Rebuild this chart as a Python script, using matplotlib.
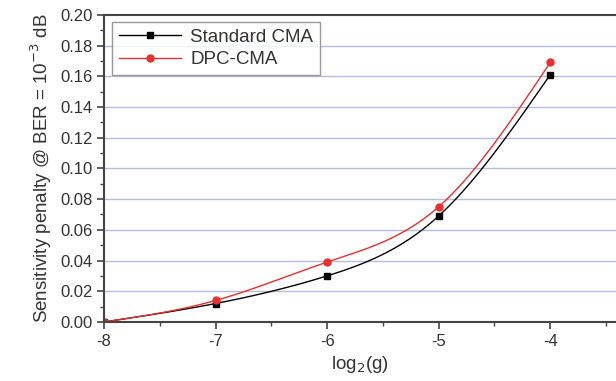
import numpy as np
import matplotlib
matplotlib.use('Agg')
import matplotlib.pyplot as plt
from matplotlib.ticker import MultipleLocator

# data
log2g = [-8, -7, -6, -5, -4]
standard_cma = [0.000, 0.012, 0.030, 0.069, 0.161]
dpc_cma = [0.000, 0.014, 0.039, 0.075, 0.169]

plt.rcParams['font.family'] = ['Liberation Sans', 'DejaVu Sans']
plt.rcParams['axes.unicode_minus'] = False


def smooth(x, y, n=40):
    # natural cubic spline through the points (only for drawing the line)
    x = np.asarray(x, float)
    y = np.asarray(y, float)
    m = len(x)
    h = np.diff(x)
    A = np.zeros((m, m))
    b = np.zeros(m)
    A[0, 0] = A[-1, -1] = 1
    for i in range(1, m - 1):
        A[i, i - 1] = h[i - 1]
        A[i, i] = 2 * (h[i - 1] + h[i])
        A[i, i + 1] = h[i]
        b[i] = 6 * ((y[i + 1] - y[i]) / h[i] - (y[i] - y[i - 1]) / h[i - 1])
    M = np.linalg.solve(A, b)
    xs, ys = [], []
    for i in range(m - 1):
        t = np.linspace(x[i], x[i + 1], n)
        a = x[i + 1] - t
        c = t - x[i]
        s = (M[i] * a ** 3 + M[i + 1] * c ** 3) / (6 * h[i]) \
            + (y[i] / h[i] - M[i] * h[i] / 6) * a \
            + (y[i + 1] / h[i] - M[i + 1] * h[i] / 6) * c
        xs.extend(t)
        ys.extend(s)
    return xs, ys


fig = plt.figure(figsize=(6.16, 3.81), dpi=100)
ax = fig.add_axes([0.169, 0.155, 0.831, 0.806])

for yv in np.arange(0.02, 0.20, 0.02):
    ax.axhline(yv, color='#b4bce0', lw=1.0, zorder=0)

sx, sy = smooth(log2g, standard_cma)
ax.plot(sx, sy, color='black', lw=1.0)
ax.plot(log2g, standard_cma, 's', color='black', ms=5)
dx, dy = smooth(log2g, dpc_cma)
ax.plot(dx, dy, color='#e83030', lw=1.0)
ax.plot(log2g, dpc_cma, 'o', color='#e83030', ms=5)

# legend proxies
h1, = ax.plot([], [], '-s', color='black', ms=5, lw=1.0, label='Standard CMA')
h2, = ax.plot([], [], '-o', color='#e83030', ms=5, lw=1.0, label='DPC-CMA')
leg = ax.legend(handles=[h1, h2], loc='upper left', fontsize=13.5,
                frameon=True, fancybox=False, handlelength=3.3,
                borderpad=0.35, labelspacing=0.3, handletextpad=0.5,
                borderaxespad=0, bbox_to_anchor=(0.016, 0.977))
leg.get_frame().set_edgecolor('#808080')
leg.get_frame().set_linewidth(1.0)
for t in leg.get_texts():
    t.set_color('#333333')

ax.set_xlim(-8, -3.41)
ax.set_ylim(0, 0.20)
ax.xaxis.set_major_locator(MultipleLocator(1))
ax.xaxis.set_minor_locator(MultipleLocator(0.5))
ax.yaxis.set_major_locator(MultipleLocator(0.02))
ax.yaxis.set_minor_locator(MultipleLocator(0.01))
ax.yaxis.set_major_formatter(plt.FormatStrFormatter('%.2f'))
ax.tick_params(which='major', direction='out', length=5, width=1.2, labelsize=12,
               colors='#444444', labelcolor='#333333')
ax.tick_params(which='minor', direction='out', length=3, width=1.0, colors='#444444')
for side in ('left', 'bottom', 'top'):
    ax.spines[side].set_linewidth(1.5)
    ax.spines[side].set_color('#444444')
ax.spines['right'].set_visible(False)

ax.set_xlabel('log$_2$(g)', fontsize=13.5, color='#333333')
ax.set_ylabel('Sensitivity penalty @ BER = 10$^{-3}$ dB', fontsize=13.5, color='#333333')

plt.savefig('out.png', dpi=100)
